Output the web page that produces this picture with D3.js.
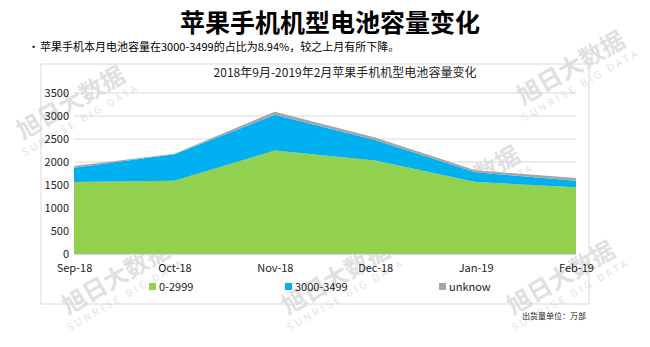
<!DOCTYPE html>
<html>
<head>
<meta charset="utf-8">
<script src="https://cdn.jsdelivr.net/npm/d3@7"></script>
<style>
	body { margin: 0; background: #fff; }
	text { font-family: "Noto Sans CJK SC", "Open Sans", sans-serif; }
</style>
</head>
<body>
<div id="chart"></div>
<script>
// data
const months = ['Sep-18', 'Oct-18', 'Nov-18', 'Dec-18', 'Jan-19', 'Feb-19'];
const seriesNames = ['0-2999', '3000-3499', 'unknow'];
const low = [1565, 1590, 2250, 2030, 1565, 1450];
const mid = [311, 577, 775, 450, 210, 145];
const unknow = [37, 15, 70, 50, 45, 58];
const yTicks = [0, 500, 1000, 1500, 2000, 2500, 3000, 3500];

const colors = ['#92d050', '#00b0f0', '#a5a5a5'];

const width = 650, height = 347;
const svg = d3.select('#chart').append('svg').attr('width', width).attr('height', height);

// watermarks (behind everything)
const marks = [[75, 110], [240, 185], [470, 190], [575, 75], [120, 285], [340, 285], [565, 285]];
const wm = svg.append('g').selectAll('g')
	.data(marks)
	.enter().append('g')
	.attr('transform', d => `translate(${d[0]},${d[1]}) rotate(-30)`)
	.attr('opacity', 0.22)
	.attr('fill', '#777');
wm.append('text').attr('text-anchor', 'middle').style('font-size', '24px').style('font-weight', 'bold').text('旭日大数据');
wm.append('text').attr('text-anchor', 'middle').attr('y', 15).style('font-size', '10px').style('letter-spacing', '3px').text('SUNRISE BIG DATA');

// page title + note
svg.append('text')
	.attr('x', 330).attr('y', 32)
	.attr('text-anchor', 'middle')
	.style('font-size', '25px').style('font-weight', 'bold')
	.text('苹果手机机型电池容量变化');

svg.append('text').attr('x', 28).attr('y', 51).style('font-size', '11px').text('•');
svg.append('text')
	.attr('x', 40).attr('y', 51)
	.style('font-size', '11px')
	.text('苹果手机本月电池容量在3000-3499的占比为8.94%，较之上月有所下降。');

// chart frame
svg.append('rect')
	.attr('x', 41).attr('y', 64)
	.attr('width', 548).attr('height', 240)
	.attr('fill', 'none').attr('stroke', '#d9d9d9');

svg.append('text')
	.attr('x', 345).attr('y', 77)
	.attr('text-anchor', 'middle')
	.style('font-size', '12px').attr('fill', '#222')
	.text('2018年9月-2019年2月苹果手机机型电池容量变化');

// scales
const x = d3.scalePoint().domain(months).range([74, 576]);
const y = d3.scaleLinear().domain([0, 3500]).range([254, 93]);

// grid
svg.append('g').selectAll('line')
	.data(yTicks.slice(1))
	.enter().append('line')
	.attr('x1', 74).attr('x2', 576)
	.attr('y1', d => y(d)).attr('y2', d => y(d))
	.attr('stroke', '#d9d9d9');

// stacked areas
const table = months.map((m, i) => ({ month: m, '0-2999': low[i], '3000-3499': mid[i], 'unknow': unknow[i] }));
const stack = d3.stack().keys(seriesNames)(table);
const area = d3.area()
	.x(d => x(d.data.month))
	.y0(d => y(d[0]))
	.y1(d => y(d[1]));

svg.append('g').selectAll('path')
	.data(stack)
	.enter().append('path')
	.attr('d', area)
	.attr('fill', (d, i) => colors[i]);

// axes
const yAxis = svg.append('g')
	.attr('transform', 'translate(74,0)')
	.call(d3.axisLeft(y).tickValues(yTicks).tickFormat(d3.format('d')).tickSize(0).tickPadding(5));
yAxis.select('.domain').remove();
yAxis.selectAll('text').style('font-size', '11px').attr('fill', '#222');

const xAxis = svg.append('g')
	.attr('transform', 'translate(0,254)')
	.call(d3.axisBottom(x).tickSize(0).tickPadding(10));
xAxis.select('.domain').attr('stroke', '#d9d9d9');
xAxis.selectAll('text').style('font-size', '11px').attr('fill', '#222');

// legend
const legendX = [149, 285, 439];
const legend = svg.append('g').selectAll('g')
	.data(seriesNames)
	.enter().append('g')
	.attr('transform', (d, i) => `translate(${legendX[i]}, 287)`);
legend.append('rect').attr('x', 0).attr('y', -4).attr('width', 7).attr('height', 7)
	.attr('fill', (d, i) => colors[i]);
legend.append('text').attr('x', 10).attr('y', 4)
	.style('font-size', '11px').attr('fill', '#222')
	.text(d => d);

// unit note
svg.append('text')
	.attr('x', 586).attr('y', 319)
	.attr('text-anchor', 'end')
	.style('font-size', '8px').attr('fill', '#222')
	.text('出货量单位：万部');
</script>
</body>
</html>
